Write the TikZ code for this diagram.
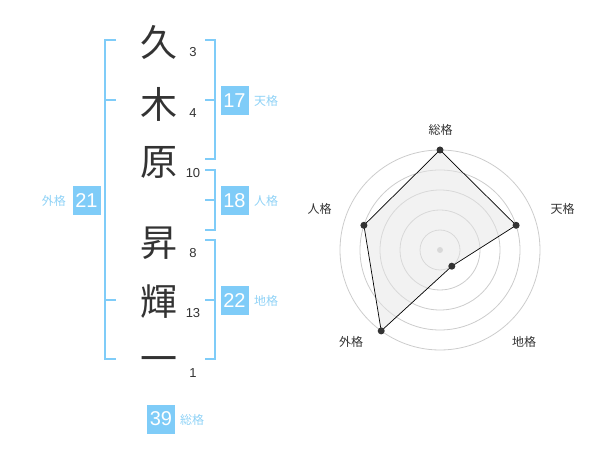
\documentclass[tikz,border=0pt]{standalone}
\usepackage{fontspec}
\setmainfont{Liberation Sans}
\newfontfamily\jpfont{Noto Sans CJK JP}
\definecolor{sky}{HTML}{7FCCF8}
\definecolor{skytext}{HTML}{8FD2F6}
\definecolor{ink}{HTML}{333333}
\definecolor{ring}{HTML}{CCCCCC}
\begin{document}
\begin{tikzpicture}[x=1pt,y=-1pt,
  kanji/.style={font=\jpfont\fontsize{37}{37}\selectfont, text=ink, inner sep=0},
  strokes/.style={font=\fontsize{13}{13}\selectfont, text=ink, inner sep=0},
  numbox/.style={fill=sky, text=white, minimum width=28, minimum height=29, inner sep=0, font=\fontsize{20}{20}\selectfont},
  gname/.style={text=skytext, font=\jpfont\fontsize{12}{12}\selectfont, inner sep=0},
  bracket/.style={draw=sky, line width=2},
  axislabel/.style={text=ink, font=\jpfont\fontsize{12}{12}\selectfont, inner sep=0},
  ringline/.style={draw=ring, line width=0.8},
  dot/.style={circle, fill=ink, inner sep=0, minimum size=7},
  polyline/.style={draw=black, line width=0.7}
]
\useasboundingbox (0,0) rectangle (600,470);

% names
\node[kanji] (k1) at (159,42) {久};
\node[kanji] (k2) at (159,104) {木};
\node[kanji] (k3) at (159,162) {原};
\node[kanji] (k4) at (159,243) {昇};
\node[kanji] (k5) at (159,302) {輝};
\node[kanji] (k6) at (159,365) {一};

\node[strokes] (s1) at (193,52) {3};
\node[strokes] (s2) at (193,113) {4};
\node[strokes] (s3) at (193,173) {10};
\node[strokes] (s4) at (193,253) {8};
\node[strokes] (s5) at (193,313) {13};
\node[strokes] (s6) at (193,373) {1};

% brackets
\draw[bracket] (116,40) -- (105,40) -- (105,359) -- (116,359);
\draw[bracket] (105,100) -- (116,100);
\draw[bracket] (105,300) -- (116,300);

\draw[bracket] (205,40) -- (215,40) -- (215,159) -- (205,159);
\draw[bracket] (215,100) -- (205,100);

\draw[bracket] (205,170) -- (215,170) -- (215,230) -- (205,230);
\draw[bracket] (215,200) -- (205,200);

\draw[bracket] (205,240) -- (215,240) -- (215,359) -- (205,359);
\draw[bracket] (215,300) -- (205,300);

% boxes
\node[numbox] (ten) at (234.5,100.5) {17};
\node[gname, anchor=west] (tenl) at (254,100.5) {天格};
\node[numbox] (jin) at (234.5,200.5) {18};
\node[gname, anchor=west] (jinl) at (254,200.5) {人格};
\node[numbox] (chi) at (234.5,300.5) {22};
\node[gname, anchor=west] (chil) at (254,300.5) {地格};
\node[numbox] (gai) at (86.5,200.5) {21};
\node[gname, anchor=east] (gail) at (66,200.5) {外格};
\node[numbox] (sou) at (161,419) {39};
\node[gname, anchor=west] (soul) at (180,419.5) {総格};

% radar
\coordinate (c) at (440,250);
\foreach \r in {20,40,60,80,100} \draw[ringline] (c) circle[radius=\r];
\node[circle, fill=ring, inner sep=0, minimum size=6] (cd) at (c) {};

\coordinate (pS) at (440,150);
\coordinate (pT) at (516.1,225.3);
\coordinate (pC) at (451.8,266.2);
\coordinate (pG) at (381.2,330.9);
\coordinate (pJ) at (363.9,225.3);

\fill[gray!20, opacity=0.5] (pS) -- (pT) -- (pC) -- (pG) -- (pJ) -- cycle;
\draw[polyline] (pS) -- (pT) -- (pC) -- (pG) -- (pJ) -- cycle;
\foreach \p in {pS,pT,pC,pG,pJ} \node[dot] at (\p) {};

\node[axislabel] (aS) at (440.5,130) {総格};
\node[axislabel] (aT) at (562.5,208.5) {天格};
\node[axislabel] (aC) at (524,341.5) {地格};
\node[axislabel] (aG) at (351,341.5) {外格};
\node[axislabel] (aJ) at (319.5,208.5) {人格};
\end{tikzpicture}
\end{document}
